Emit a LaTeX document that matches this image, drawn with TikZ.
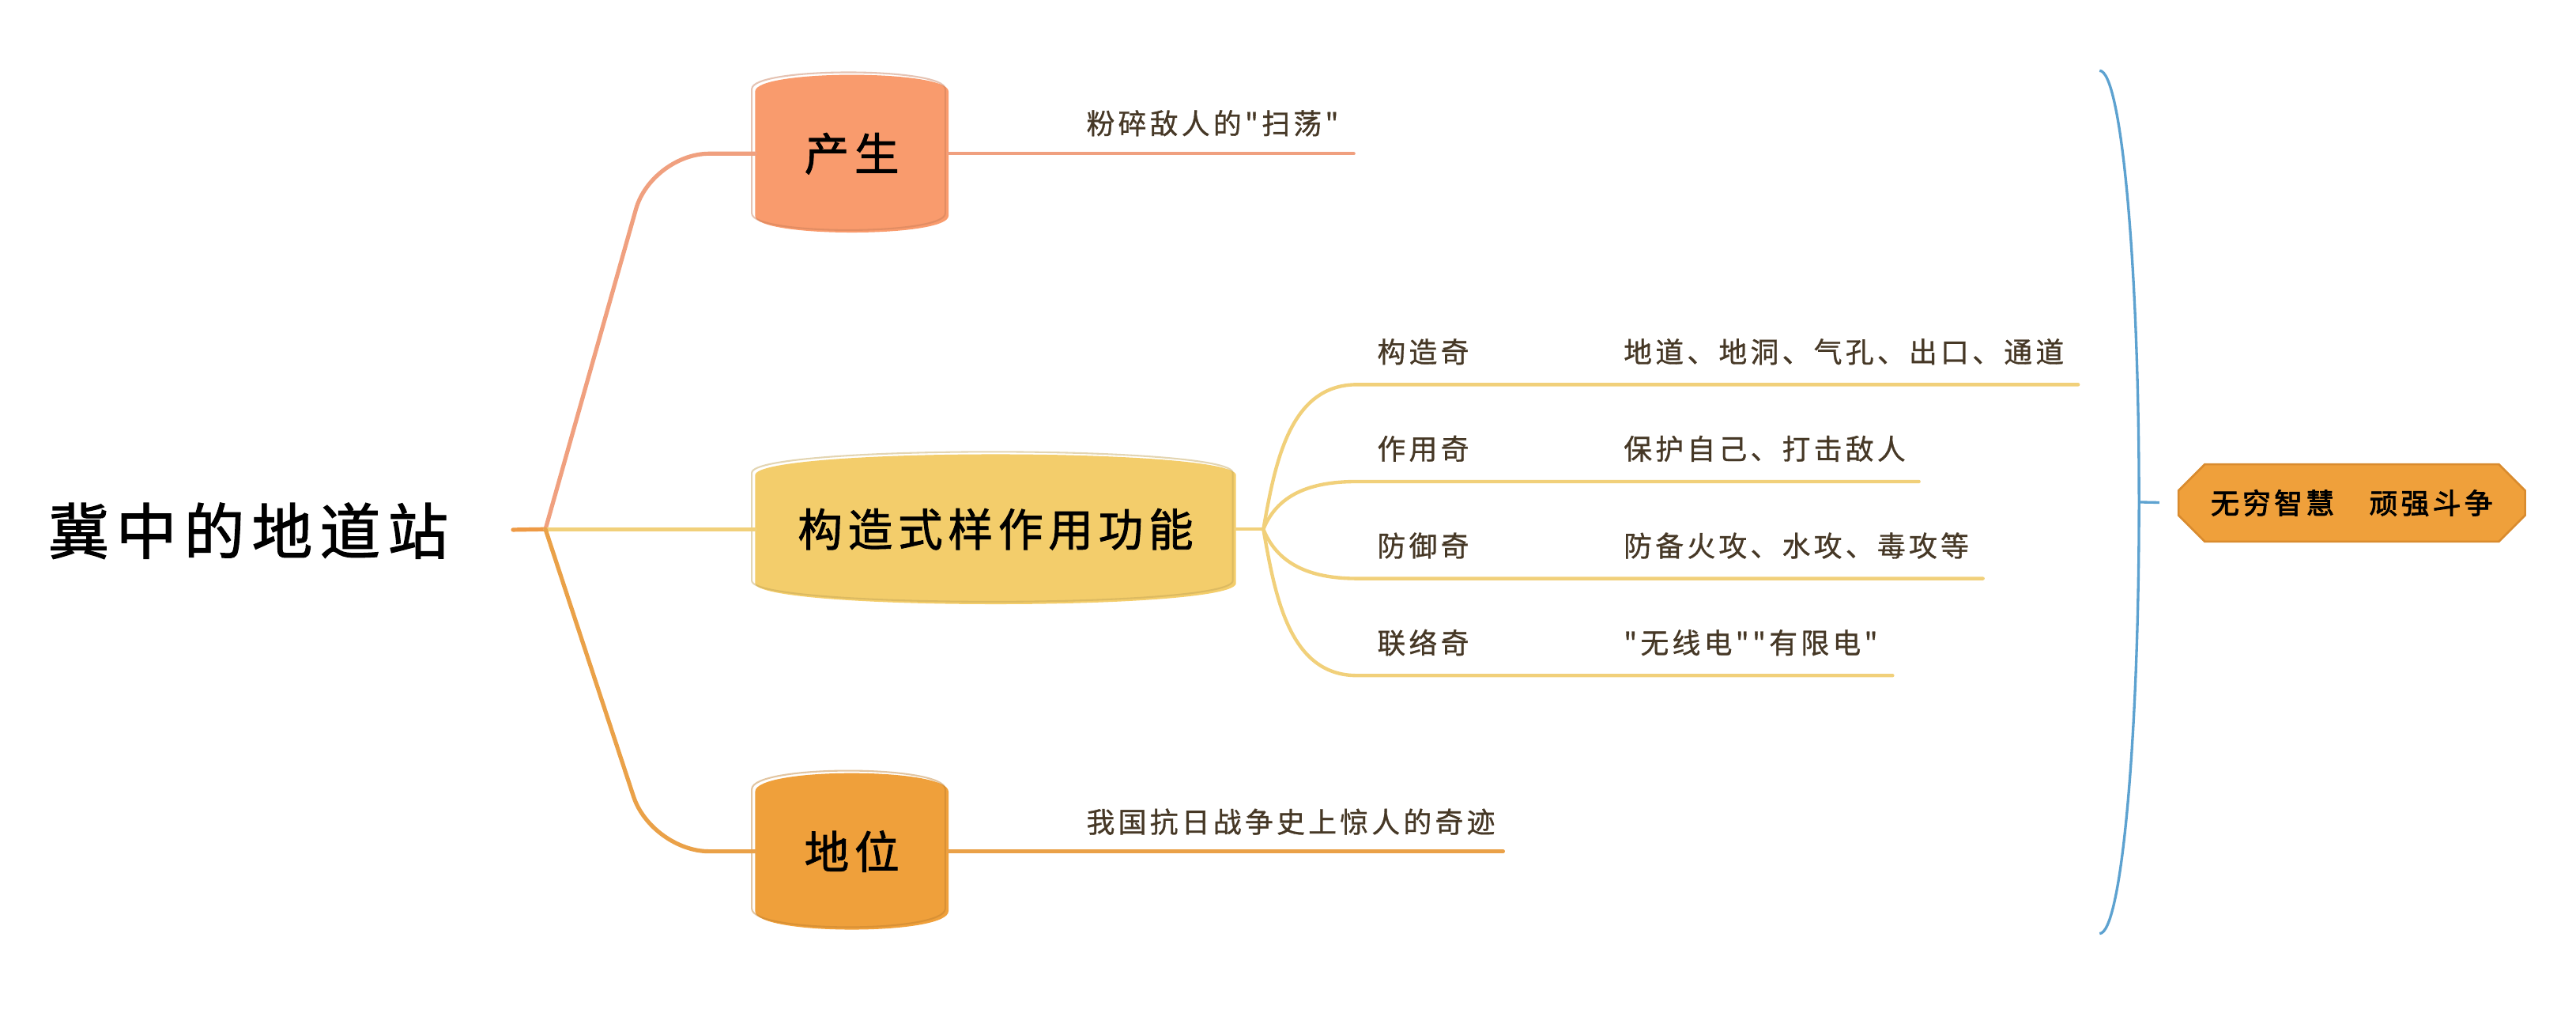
\documentclass[tikz,border=0pt]{standalone}
\usepackage{fontspec}
\usepackage{tikz}
\usetikzlibrary{shapes.misc,backgrounds}
\newfontfamily\cjkheavy[LetterSpace=12, FakeBold=1.5]{Noto Sans CJK SC}
\newfontfamily\cjknote[LetterSpace=12, FakeBold=0.8]{Noto Sans CJK SC}
\newfontfamily\cjksum[LetterSpace=12, FakeBold=2.5]{Noto Sans CJK SC}
\definecolor{peach}{HTML}{F99B6D}
\definecolor{sand}{HTML}{F3CD6B}
\definecolor{amber}{HTML}{EFA03B}
\definecolor{amberedge}{HTML}{D98B2E}
\definecolor{peachline}{HTML}{F0A07F}
\definecolor{sandline}{HTML}{F1D07A}
\definecolor{amberline}{HTML}{EAA148}
\definecolor{stubline}{HTML}{EE9A45}
\definecolor{blueline}{HTML}{5DA2D0}
\definecolor{ink}{HTML}{463826}
\providecommand{\sketchbox}[3]{%
  \begin{pgfonlayer}{background}
    \fill[#2] (#1.south west) -- (#1.north west)
      .. controls ([yshift=#3]#1.north west) and ([yshift=#3]#1.north east) .. (#1.north east)
      -- (#1.south east)
      .. controls ([yshift=-#3]#1.south east) and ([yshift=-#3]#1.south west) .. cycle;
    \draw[#2!80!black, line width=0.2mm, opacity=0.45, transform canvas={shift={(-0.4mm,0.3mm)}}]
      (#1.south west) -- (#1.north west)
      .. controls ([yshift=#3]#1.north west) and ([yshift=#3]#1.north east) .. (#1.north east)
      -- (#1.south east)
      .. controls ([yshift=-#3]#1.south east) and ([yshift=-#3]#1.south west) .. cycle;
  \end{pgfonlayer}}
\tikzstyle{root} = [anchor=west, inner sep=0pt, font={\cjkheavy\fontsize{21pt}{25pt}\selectfont}]
\tikzstyle{topic} = [rectangle, inner sep=0pt, align=center, font={\cjkheavy\fontsize{15.5pt}{18pt}\selectfont}]
\tikzstyle{item} = [anchor=west, inner sep=0pt, text=ink, font={\cjknote\fontsize{9.8pt}{11pt}\selectfont}]
\tikzstyle{summary} = [chamfered rectangle, chamfered rectangle xsep=1.6mm, chamfered rectangle ysep=1.6mm, fill=amber, draw=amberedge, line width=0.25mm, minimum width=42.2mm, minimum height=9.4mm, inner sep=0pt, font={\cjksum\fontsize{9.8pt}{11pt}\selectfont}]
\tikzstyle{branch} = [line width=0.5mm, line cap=round]
\tikzstyle{twig} = [line width=0.42mm, line cap=round]
\tikzstyle{brace} = [draw=blueline, line width=0.32mm]

\begin{document}
\begin{tikzpicture}[x=0.2mm, y=0.2mm]
    \begin{pgfonlayer}{background}
      \fill[white] (0,0) rectangle (1568,616);
    \end{pgfonlayer}
    \useasboundingbox (0,0) rectangle (1568,616);

    \node [root] (root) at (29,293) {冀中的地道站};
    \coordinate (hub) at (332,294);

    \node [topic, minimum width=23.4mm, minimum height=15mm] (birth) at (518.5,522.5) {产生};
    \node [topic, minimum width=58.4mm, minimum height=13mm] (form) at (606,294) {构造式样作用功能};
    \node [topic, minimum width=23.4mm, minimum height=14.4mm] (rank) at (518.5,98) {地位};
    \sketchbox{birth}{peach}{2.7mm}
    \sketchbox{form}{sand}{3.4mm}
    \sketchbox{rank}{amber}{3mm}

    \draw [branch, draw=stubline, shorten <=7.8mm] (root.east) -- (hub);
    \draw [branch, draw=peachline, rounded corners=7mm] (hub) -- ([xshift=-12.6mm]birth.west) -- (birth.west);
    \draw [branch, draw=sandline] (hub) -- (form.west);
    \draw [branch, draw=amberline, rounded corners=7mm] (hub) -- ([xshift=-12.6mm]rank.west) -- (rank.west);

    % leaves of the two small topics
    \coordinate (birth-tip) at (824,522.5);
    \draw [twig, draw=peachline] (birth.east) -- (birth-tip);
    \node [item] (birth-note) at (661,541) {粉碎敌人的"扫荡"};
    \coordinate (rank-tip) at (915,98);
    \draw [twig, draw=amberline] (rank.east) -- (rank-tip);
    \node [item] (rank-note) at (661,116) {我国抗日战争史上惊人的奇迹};

    % the four wonders
    \coordinate (fork) at (769,294);
    \draw [twig, draw=sandline] (form.east) -- (fork);
    \foreach \i/\y/\bend/\tip/\head/\body in {1/382/80/1265/构造奇/地道、地洞、气孔、出口、通道,
        2/323/68/1168/作用奇/保护自己、打击敌人,
        3/264/-68/1207/防御奇/防备火攻、水攻、毒攻等,
        4/205/-80/1152/联络奇/"无线电""有限电"} {
      \coordinate (s\i) at (826,\y);
      \coordinate (t\i) at (\tip,\y);
      \draw [twig, draw=sandline] (fork) to[out=\bend, in=180] (s\i) -- (t\i);
      \node [item] (h\i) at (838,\y+20) {\head};
      \node [item] (b\i) at (988,\y+20) {\body};
    }

    % summary bracket
    \node [summary] (sum) at (1431.5,310) {无穷智慧　顽强斗争};
    \coordinate (tick) at (1302,310.5);
    \draw [brace] (1278,573) .. controls (1291.2,573) and (1302,455.4) .. (tick)
      .. controls (1302,165.6) and (1291.2,48) .. (1278,48);
    \draw [brace, shorten >=2.2mm] (tick) -- (sum.west);
\end{tikzpicture}
\end{document}
